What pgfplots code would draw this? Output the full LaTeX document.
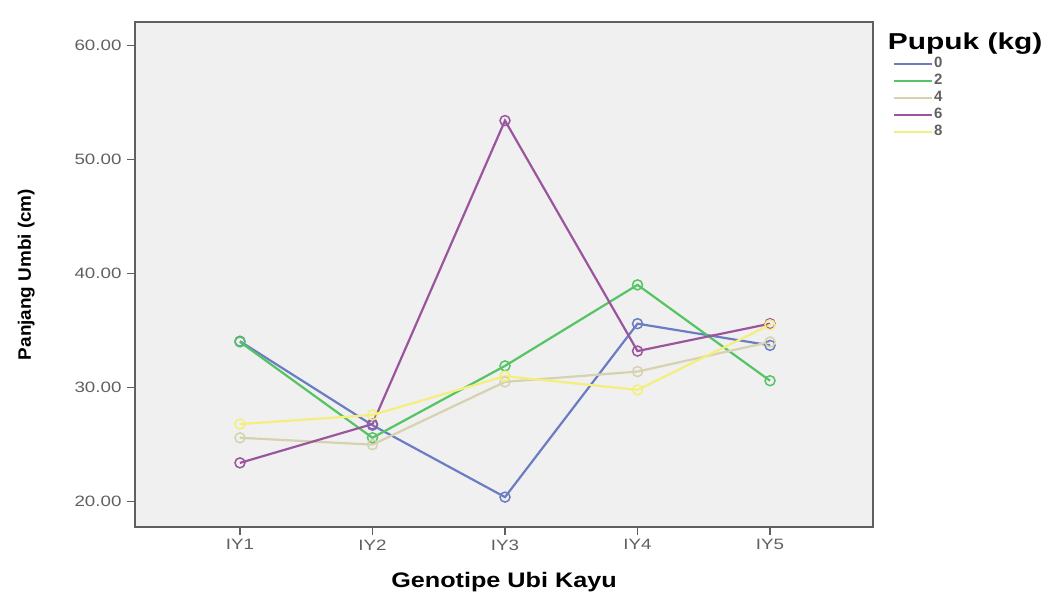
\documentclass[border=0pt]{standalone}
\usepackage{pgfplots}
\pgfplotsset{compat=1.18}
\usepackage{fontspec}
\setmainfont{Liberation Sans}
\definecolor{bg}{HTML}{F0F0F0}
\definecolor{c0}{HTML}{6B7DC2}
\definecolor{c2}{HTML}{55C464}
\definecolor{c4}{HTML}{D6D2B0}
\definecolor{c6}{HTML}{9B559F}
\definecolor{c8}{HTML}{F4EF7C}
\definecolor{tk}{HTML}{606060}
\newcommand{\wx}[1]{\scalebox{1.25}[1]{#1}}
\begin{document}
\begin{tikzpicture}[x=1pt,y=1pt]
\useasboundingbox (0,0) rectangle (1049,595);
\begin{axis}[
  at={(135pt,68pt)}, anchor=south west,
  scale only axis, width=738pt, height=505pt,
  xmin=0.208, xmax=5.777, ymin=17.78, ymax=62.04,
  clip=false,
  axis background/.style={fill=bg},
  axis line style={draw=tk, line width=1.2pt},
  xtick={1,2,3,4,5}, xticklabels={\wx{IY1},\wx{IY2},\wx{IY3},\wx{IY4},\wx{IY5}},
  ytick={20,30,40,50,60},
  yticklabel={\wx{\pgfmathprintnumber{\tick}}},
  /pgf/number format/fixed, /pgf/number format/fixed zerofill, /pgf/number format/precision=2,
  /pgf/number format/assume math mode=true,
  tick label style={font=\fontsize{15}{16}\selectfont, text=tk},
  xticklabel style={yshift=-1pt},
  yticklabel style={xshift=-2pt},
  tick align=outside, tick pos=left,
  major tick length=8pt, tick style={draw=tk, line width=1.2pt},
  xlabel={\scalebox{1.2}[1]{\textbf{Genotipe Ubi Kayu}}},
  xlabel style={font=\fontsize{21}{22}\selectfont, yshift=-15pt},
  ylabel={\scalebox{1.05}[1]{\textbf{Panjang Umbi (cm)}}},
  ylabel style={font=\fontsize{18}{18}\selectfont, yshift=33pt},
  legend cell align=left,
  legend style={at={(1.027,0.932)}, anchor=north west, draw=none, fill=none,
    font=\fontsize{15}{15}\selectfont, text=tk, row sep=3pt, inner sep=0pt,
    nodes={inner sep=1pt, text height=10pt, text depth=2pt}},
  legend image code/.code={\draw[#1, mark=none, line width=2pt] (0pt,0pt) -- (38pt,0pt);},
  every axis plot/.append style={line width=2.2pt, mark=o, mark size=5pt, mark options={line width=1.5pt}},
]
\addplot[c0] coordinates {(1,34.06) (2,26.7) (3,20.4) (4,35.6) (5,33.7)};
\addlegendentry{\textbf{0}}
\addplot[c2] coordinates {(1,34.0) (2,25.6) (3,31.9) (4,39.0) (5,30.6)};
\addlegendentry{\textbf{2}}
\addplot[c4] coordinates {(1,25.6) (2,25.0) (3,30.5) (4,31.4) (5,34.0)};
\addlegendentry{\textbf{4}}
\addplot[c6] coordinates {(1,23.4) (2,26.8) (3,53.4) (4,33.2) (5,35.6)};
\addlegendentry{\textbf{6}}
\addplot[c8] coordinates {(1,26.8) (2,27.6) (3,31.0) (4,29.8) (5,35.5)};
\addlegendentry{\textbf{8}}
\node[anchor=west, inner sep=0pt, font=\fontsize{23}{24}\selectfont] at (rel axis cs:1.02,0.957) {\scalebox{1.3}[1]{\textbf{Pupuk (kg)}}};
\end{axis}
\end{tikzpicture}
\end{document}
